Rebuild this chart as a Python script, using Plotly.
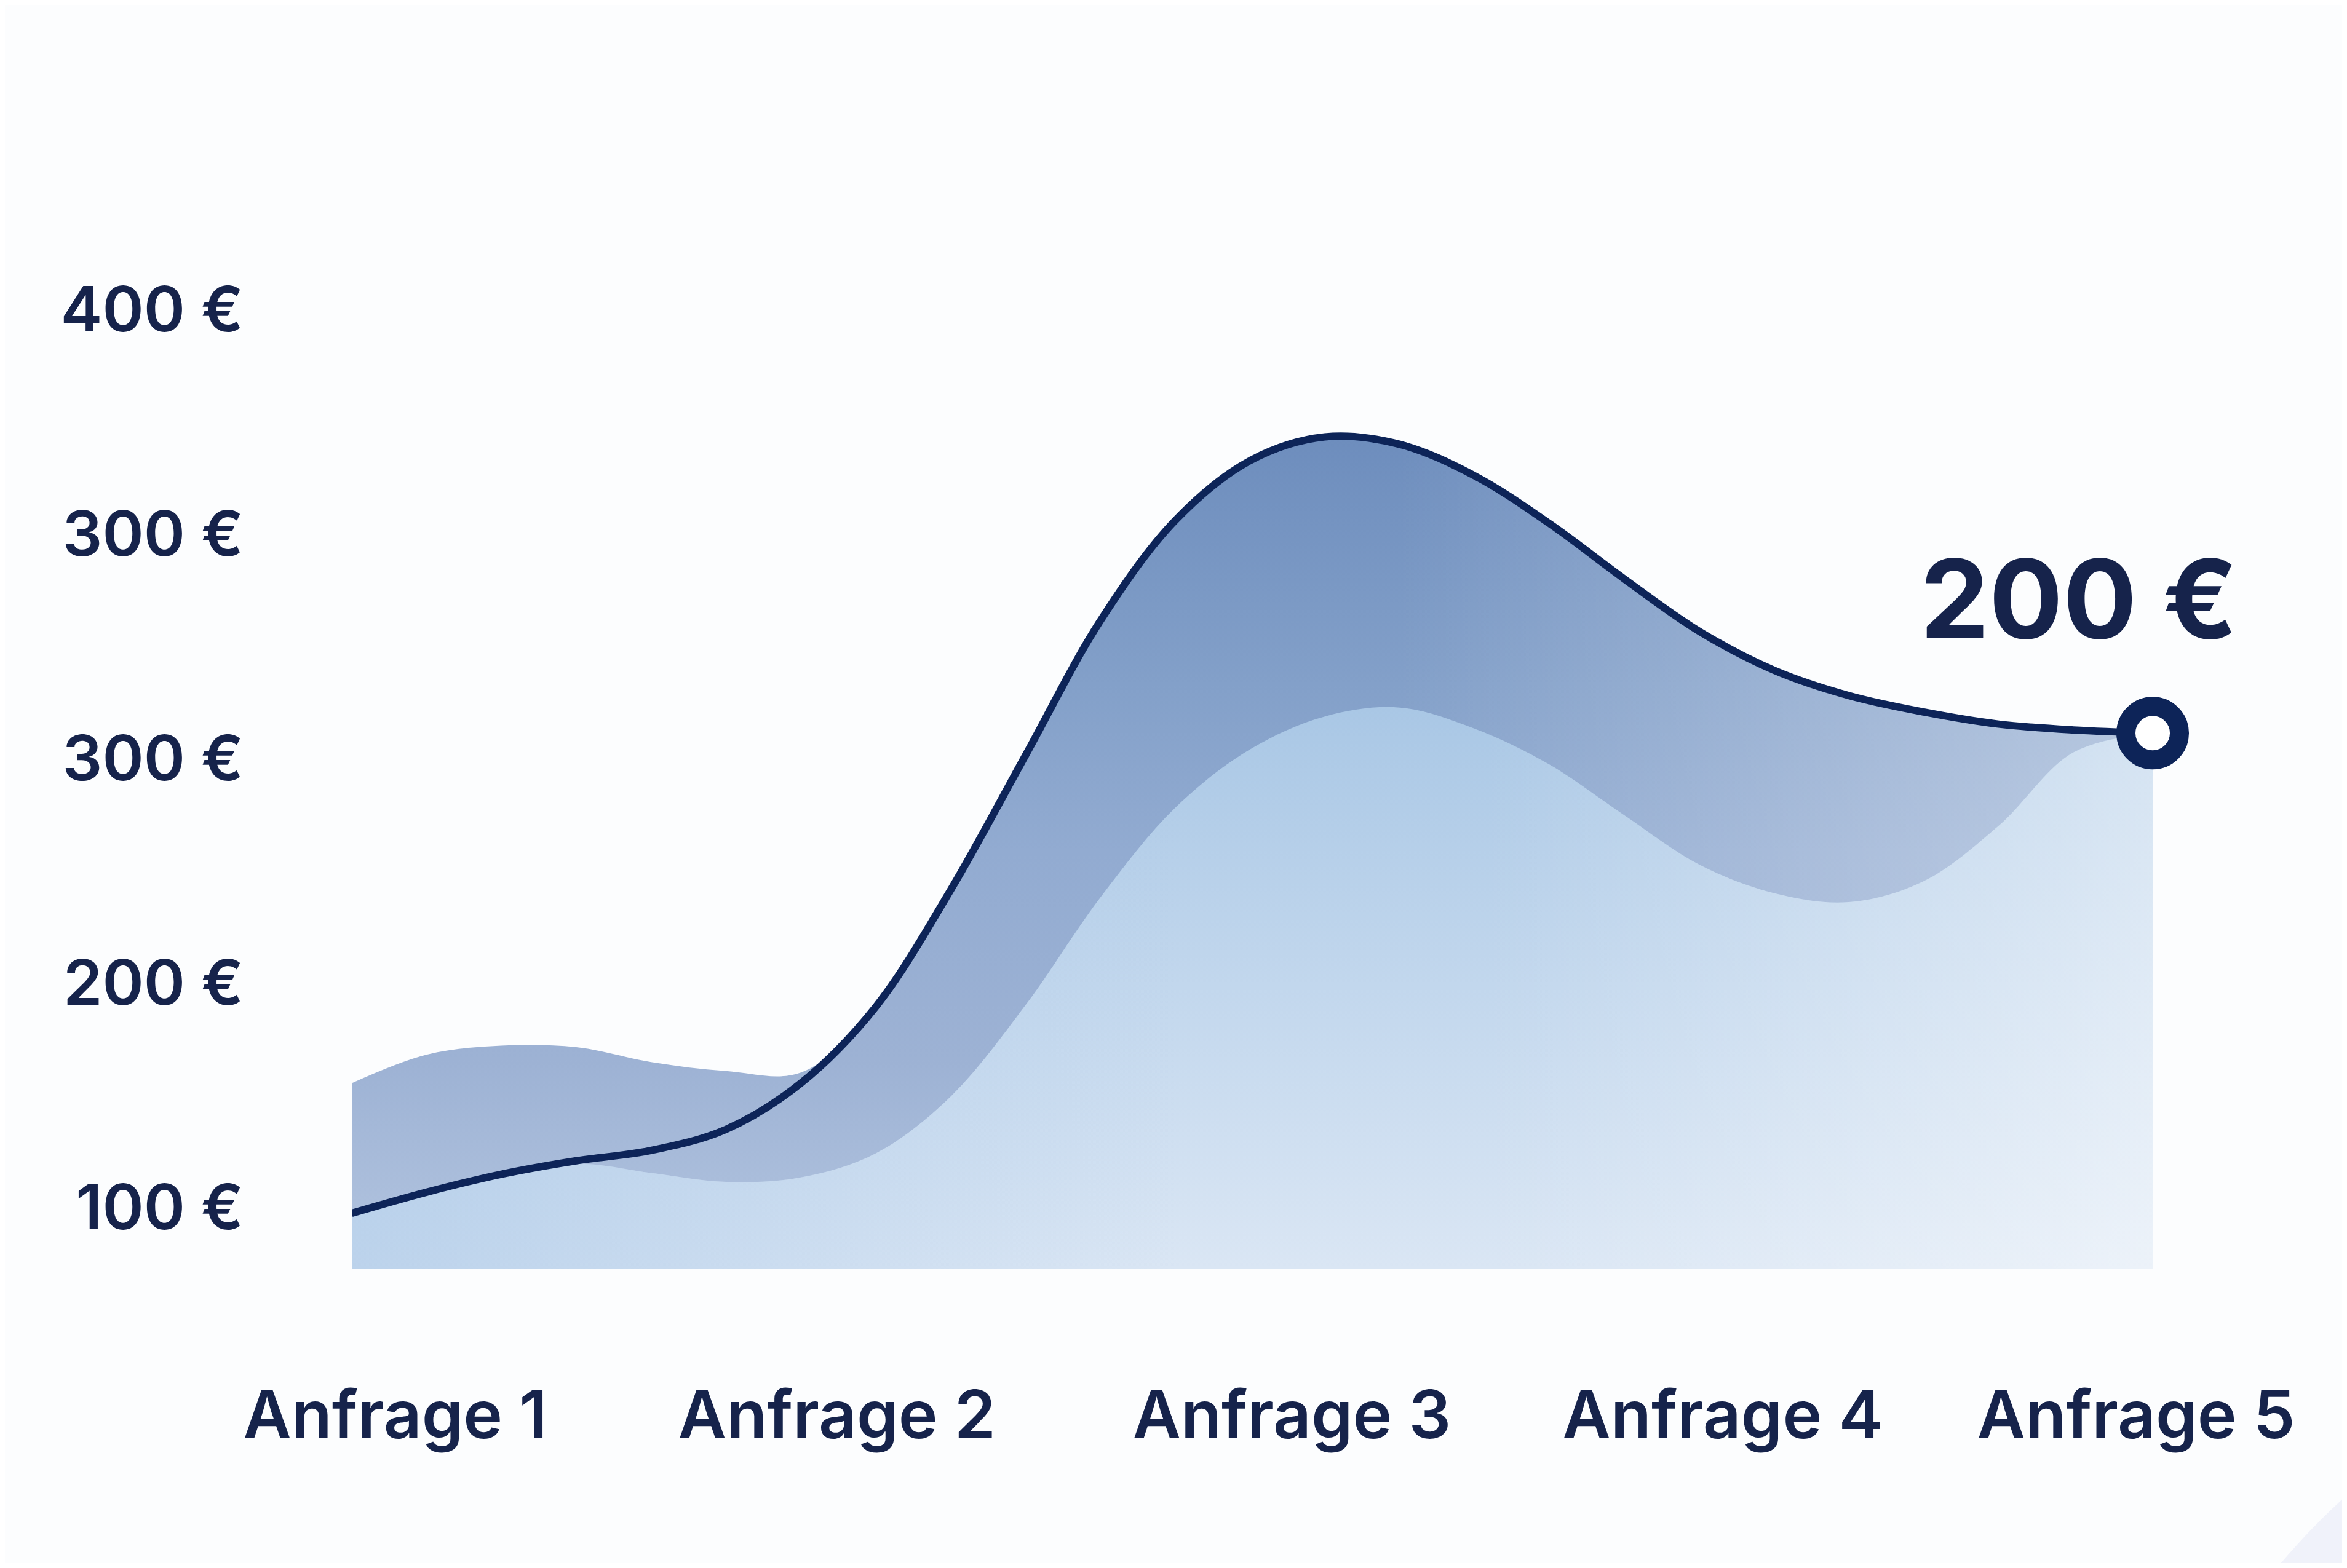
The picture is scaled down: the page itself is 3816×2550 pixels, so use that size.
import plotly.graph_objects as go

# ---------------- data ----------------
requests = ["Anfrage 1", "Anfrage 2", "Anfrage 3", "Anfrage 4", "Anfrage 5"]
request_pos = [1.0, 2.015, 3.06, 4.05, 5.0]

y_tick_vals = [100, 200, 300, 400, 500]
y_tick_text = ["100 €", "200 €", "300 €", "300 €", "400 €"]

# shared sampling positions along the request axis
pos_x = [0.900, 1.072, 1.244, 1.416, 1.588, 1.760, 1.932, 2.104, 2.276, 2.448,
         2.620, 2.792, 2.964, 3.136, 3.308, 3.480, 3.652, 3.824, 3.996, 4.168,
         4.340, 4.512, 4.684, 4.856, 5.038]

# main price line
line_y = [97.3, 106.7, 114.7, 120.7, 125.3, 134.7, 155.3, 189.3, 241.3, 301.3,
          361.3, 406.0, 432.7, 443.3, 440.0, 426.0, 404.7, 380.0, 356.7, 339.3,
          328.0, 320.7, 315.3, 312.7, 311.3]

# back (darker) band top
upper_y = [155.3, 168.0, 172.0, 171.3, 164.7, 160.7, 160.0, 189.3, 241.3, 301.3,
           361.3, 406.0, 432.7, 443.3, 440.0, 426.0, 404.7, 380.0, 356.7, 339.3,
           328.0, 320.7, 315.3, 312.7, 311.3]

# front (lighter) band top
lower_y = [96.7, 105.7, 113.3, 119.3, 115.3, 111.3, 113.3, 124.0, 149.3, 190.0,
           238.0, 278.0, 304.0, 318.7, 322.7, 313.3, 297.3, 274.7, 252.7, 240.0,
           236.0, 245.3, 270.0, 302.7, 311.3]

end_label = "200 €"
end_label_pos = (4.869, 371.3)

# ---------------- style ----------------
NAVY = "#0D2458"
TEXT = "#16234B"
FONT = "Inter, 'Noto Sans', 'DejaVu Sans', sans-serif"
Y_MIN, Y_MAX = 72.67, 538.0
X_MIN, X_MAX = 0.9003, 5.062

spline = dict(width=0, shape="spline", smoothing=1)

fig = go.Figure()

# back band: vertical gradient
fig.add_trace(go.Scatter(
    x=pos_x, y=upper_y, mode="lines", line=spline, fill="tozeroy",
    fillgradient=dict(type="vertical", start=Y_MIN, stop=444,
                      colorscale=[[0, "#B3C5E0"], [0.25, "#9DB2D4"], [0.5, "#92ABD1"],
                                  [0.7, "#83A0C9"], [1, "#6D8DBD"]]),
    hoverinfo="skip", showlegend=False))
# back band: lighten to the right
fig.add_trace(go.Scatter(
    x=pos_x, y=upper_y, mode="lines", line=spline, fill="tozeroy",
    fillgradient=dict(type="horizontal", start=3.3, stop=5.06,
                      colorscale=[[0, "rgba(255,255,255,0)"], [1, "rgba(255,255,255,0.4)"]]),
    hoverinfo="skip", showlegend=False))

# front band: vertical gradient
fig.add_trace(go.Scatter(
    x=pos_x, y=lower_y, mode="lines", line=spline, fill="tozeroy",
    fillgradient=dict(type="vertical", start=Y_MIN, stop=324,
                      colorscale=[[0, "#DAE6F4"], [0.5, "#C2D7ED"], [1, "#A9C7E5"]]),
    hoverinfo="skip", showlegend=False))
# front band: darker on the left
fig.add_trace(go.Scatter(
    x=pos_x, y=lower_y, mode="lines", line=spline, fill="tozeroy",
    fillgradient=dict(type="horizontal", start=0.9, stop=2.8,
                      colorscale=[[0, "rgba(168,198,230,0.6)"], [1, "rgba(168,198,230,0)"]]),
    hoverinfo="skip", showlegend=False))
# front band: lighter on the right
fig.add_trace(go.Scatter(
    x=pos_x, y=lower_y, mode="lines", line=spline, fill="tozeroy",
    fillgradient=dict(type="horizontal", start=3.5, stop=5.06,
                      colorscale=[[0, "rgba(255,255,255,0)"], [1, "rgba(255,255,255,0.5)"]]),
    hoverinfo="skip", showlegend=False))

# main line
fig.add_trace(go.Scatter(
    x=pos_x, y=line_y, mode="lines",
    line=dict(color=NAVY, width=12, shape="spline", smoothing=1),
    hoverinfo="skip", showlegend=False))

# end marker
fig.add_trace(go.Scatter(
    x=[pos_x[-1]], y=[line_y[-1]], mode="markers",
    marker=dict(size=87, color="white", line=dict(color=NAVY, width=31)),
    cliponaxis=False, hoverinfo="skip", showlegend=False))

fig.add_annotation(
    x=end_label_pos[0], y=end_label_pos[1], text=end_label, showarrow=False,
    xanchor="center", yanchor="middle",
    font=dict(family=FONT, size=178, color=TEXT, weight=700))

# faint background arc in the bottom-right corner
fig.add_shape(type="circle", xref="paper", yref="paper",
              x0=0.9705, x1=1.765, y0=-1.417, y1=-0.0393,
              fillcolor="#F0F2FA", line=dict(width=0), layer="below")

fig.update_layout(
    width=3800, height=2534,
    margin=dict(l=564, r=291, t=357, b=479, pad=0),
    paper_bgcolor="#FCFDFE", plot_bgcolor="rgba(0,0,0,0)",
    showlegend=False,
    font=dict(family=FONT, color=TEXT),
)
fig.update_xaxes(
    range=[X_MIN, X_MAX], tickvals=request_pos, ticktext=requests,
    showgrid=False, zeroline=False, showline=False, ticks="",
    tickfont=dict(family=FONT, size=108, color=TEXT, weight=600),
    ticklabelstandoff=167)
fig.update_yaxes(
    range=[Y_MIN, Y_MAX], tickvals=y_tick_vals, ticktext=y_tick_text,
    showgrid=False, zeroline=False, showline=False, ticks="",
    tickfont=dict(family=FONT, size=102, color=TEXT, weight=600),
    ticklabelstandoff=175)

fig.write_html("out.html")
